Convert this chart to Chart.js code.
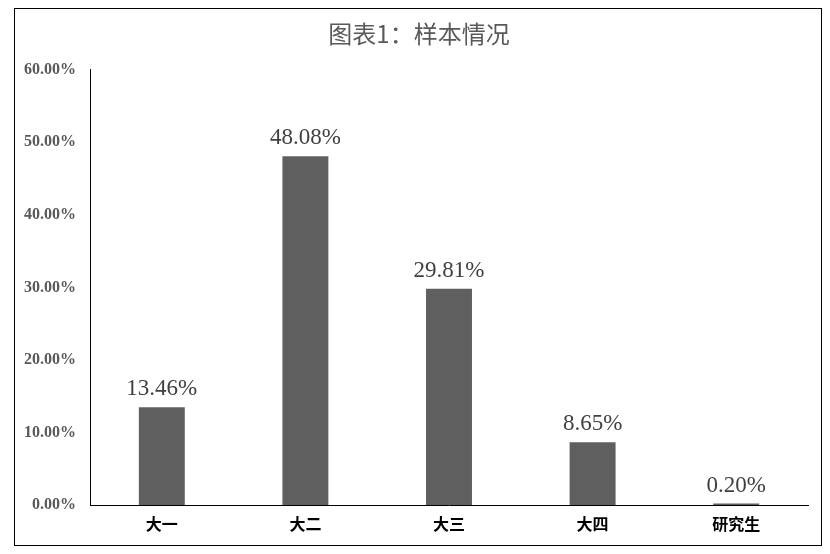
<!DOCTYPE html>
<html>
<head>
<meta charset="utf-8">
<script src="https://cdn.jsdelivr.net/npm/chart.js@4"></script>
<style>
html,body{margin:0;padding:0;background:#fff;}
#wrap{position:relative;width:830px;height:554px;}
#frame{position:absolute;left:14px;top:8px;width:808px;height:538px;border:1.5px solid #000;pointer-events:none;box-sizing:border-box;}
canvas{position:absolute;left:0;top:0;}
</style>
</head>
<body>
<div id="wrap"><canvas id="c" width="830" height="554"></canvas><div id="frame"></div></div>
<script>
const categories = ['大一', '大二', '大三', '大四', '研究生'];
const values = [13.46, 48.08, 29.81, 8.65, 0.20];
const yTicks = [0, 10, 20, 30, 40, 50, 60];
const titleText = '图表1：样本情况';

const labelPlugin = {
  id: 'barLabels',
  afterDatasetsDraw(chart) {
    const ctx = chart.ctx;
    const meta = chart.getDatasetMeta(0);
    ctx.save();
    ctx.font = '23px "Liberation Serif", "Noto Sans CJK SC", serif';
    ctx.fillStyle = '#404040';
    ctx.textAlign = 'center';
    ctx.textBaseline = 'alphabetic';
    meta.data.forEach((el, i) => {
      ctx.fillText(values[i].toFixed(2) + '%', el.x, el.y - 12);
    });
    ctx.restore();
  }
};

new Chart(document.getElementById('c'), {
  type: 'bar',
  data: {
    labels: categories,
    datasets: [{
      data: values,
      backgroundColor: '#5f5f5f',
      borderWidth: 0,
      barPercentage: 0.64,
      categoryPercentage: 0.5
    }]
  },
  options: {
    responsive: false,
    animation: false,
    devicePixelRatio: 1,
    layout: { padding: { left: 8, right: 0, top: 19, bottom: 0 } },
    plugins: {
      legend: { display: false },
      tooltip: { enabled: false },
      title: {
        display: true,
        text: titleText,
        color: '#595959',
        font: { family: '"Noto Sans CJK SC", sans-serif', size: 24, weight: 'normal' },
        padding: { top: 0, bottom: 22 }
      }
    },
    scales: {
      x: {
        grid: { display: false, drawTicks: false },
        border: { display: true, color: '#000', width: 1 },
        ticks: {
          color: '#000',
          font: { family: '"Noto Sans CJK SC", sans-serif', size: 16, weight: 'bold' },
          padding: 9
        },
        afterFit(scale) { scale.height = 49; }
      },
      y: {
        min: 0,
        max: 60,
        grid: { display: false, drawTicks: false },
        border: { display: true, color: '#000', width: 1 },
        afterBuildTicks(scale) { scale.ticks = yTicks.map(v => ({ value: v })); },
        ticks: {
          color: '#595959',
          font: { family: '"Liberation Serif", serif', size: 16, weight: 'bold' },
          padding: 14,
          callback: v => v.toFixed(2) + '%'
        },
        afterFit(scale) { scale.width = 82; }
      },
      yR: {
        position: 'right',
        display: true,
        min: 0,
        max: 60,
        grid: { display: false, drawTicks: false },
        border: { display: false },
        ticks: { display: false },
        afterFit(scale) { scale.width = 22; }
      }
    }
  },
  plugins: [labelPlugin]
});
</script>
</body>
</html>
